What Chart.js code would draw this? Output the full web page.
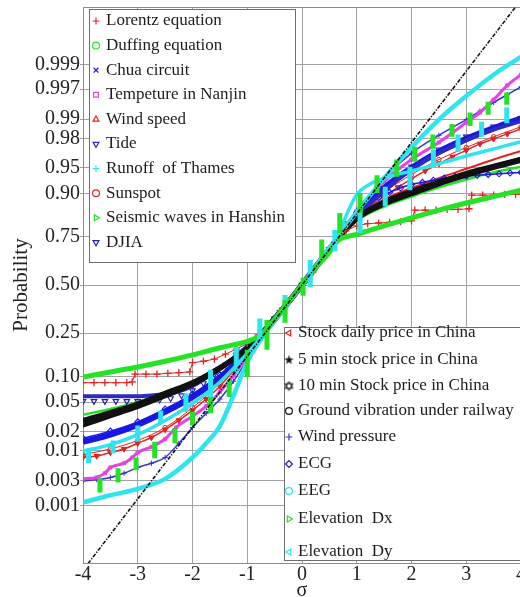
<!DOCTYPE html>
<html>
<head>
<meta charset="utf-8">
<script src="https://cdn.jsdelivr.net/npm/chart.js@4.4.1/dist/chart.umd.min.js"></script>
<style>
  html, body { margin: 0; padding: 0; background: #fff; overflow: hidden; width: 520px; height: 597px; }
  canvas { display: block; }
</style>
</head>
<body>
<canvas id="plot" width="530" height="597"></canvas>
<script>
// Normal probability plot: x is sigma, y is the standard-normal quantile of the
// empirical cumulative probability (labelled with probabilities).
const SIGMA_TICKS = [-4, -3, -2, -1, 0, 1, 2, 3, 4];
const PROB_TICKS = [0.001, 0.003, 0.01, 0.02, 0.05, 0.10, 0.25, 0.50, 0.75, 0.90, 0.95, 0.98, 0.99, 0.997, 0.999];
const PROB_LABELS = ['0.001', '0.003', '0.01', '0.02', '0.05', '0.10', '0.25', '0.50', '0.75', '0.90', '0.95', '0.98', '0.99', '0.997', '0.999'];

// Each series: [sigma, quantile] pairs
const lorentz = [[-4,-1.37],[-3.8,-1.37],[-3.6,-1.37],[-3.4,-1.37],[-3.2,-1.37],[-3.1,-1.36],
  [-3.05,-1.25],[-2.85,-1.25],[-2.65,-1.25],[-2.45,-1.24],[-2.25,-1.23],[-2.05,-1.22],
  [-2.0,-1.09],[-1.8,-1.07],[-1.6,-1.04],[-1.4,-0.97],[-1.2,-0.9],[-1.0,-0.82],[-0.8,-0.7],
  [-0.6,-0.55],[-0.4,-0.36],[-0.2,-0.18],[0,0],[0.2,0.18],[0.4,0.38],[0.6,0.6],[0.8,0.76],
  [1.0,0.83],[1.2,0.86],[1.4,0.87],[1.6,0.88],[1.8,0.89],[2.0,0.9],
  [2.06,1.05],[2.25,1.05],[2.45,1.05],[2.65,1.06],[2.85,1.06],[3.05,1.07],
  [3.1,1.26],[3.3,1.26],[3.5,1.26],[3.7,1.27],[3.9,1.27],[4.1,1.27]];
const duffing = [[-4,-1.29],[-3.5,-1.22],[-3,-1.15],[-2.5,-1.07],[-2,-0.98],[-1.5,-0.88],[-1,-0.79],
  [-0.75,-0.7],[-0.5,-0.48],[-0.25,-0.24],[0,0],[0.25,0.24],[0.5,0.46],[0.65,0.62],[1,0.71],
  [1.5,0.83],[2,0.94],[2.5,1.05],[3,1.15],[3.5,1.24],[4,1.33]];
const chua = [[-4,-2.2],[-3.5,-2.1],[-3,-1.96],[-2.5,-1.78],[-2,-1.57],[-1.5,-1.3],[-1,-0.93],
  [-0.5,-0.48],[0,0],[0.5,0.5],[1,0.98],[1.5,1.36],[2,1.64],[2.5,1.87],[3,2.05],[3.5,2.2],[4,2.34]];
const tempeture = [[-4,-2.72],[-3.75,-2.7],[-3.6,-2.64],[-3.5,-2.56],[-3.25,-2.5],[-3.1,-2.42],
  [-3,-2.35],[-2.75,-2.27],[-2.5,-2.16],[-2.3,-2.0],[-2,-1.84],[-1.75,-1.7],[-1.5,-1.5],
  [-1.25,-1.27],[-1,-1.0],[-0.75,-0.75],[-0.5,-0.5],[0,0],[0.5,0.52],[1,1.02],[1.5,1.45],
  [2,1.76],[2.5,2.0],[3,2.28],[3.25,2.42],[3.5,2.6],[3.75,2.8],[4,2.95]];
const windSpeed = [[-4,-2.42],[-3.75,-2.4],[-3.5,-2.35],[-3.25,-2.3],[-3,-2.22],[-2.75,-2.14],
  [-2.5,-2.03],[-2.25,-1.9],[-2,-1.76],[-1.75,-1.6],[-1.5,-1.42],[-1.25,-1.2],[-1,-0.95],
  [-0.5,-0.48],[0,0],[0.5,0.5],[1,0.93],[1.25,1.1],[1.5,1.24],[1.75,1.37],[2,1.49],[2.25,1.6],
  [2.5,1.7],[2.75,1.8],[3,1.89],[3.25,1.98],[3.5,2.05],[3.75,2.12],[4,2.19]];
const tide = [[-4,-1.56],[-3.75,-1.56],[-3.5,-1.56],[-3.25,-1.56],[-3,-1.56],[-2.75,-1.55],
  [-2.5,-1.53],[-2.25,-1.49],[-2,-1.42],[-1.75,-1.3],[-1.5,-1.17],[-1.25,-1.02],[-1,-0.86],
  [-0.5,-0.47],[0,0],[0.5,0.5],[1,0.95],[1.5,1.32],[2,1.62],[2.5,1.85],[3,2.03],[3.5,2.18],[4,2.3]];
const runoff = [[-4,-2.33],[-3.5,-2.24],[-3,-2.1],[-2.5,-1.9],[-2,-1.66],[-1.5,-1.36],[-1,-0.96],
  [-0.5,-0.49],[0,0],[0.5,0.52],[0.65,0.7],[0.85,1.05],[1,1.27],[1.25,1.42],[1.5,1.5],[2,1.6],
  [2.5,1.7],[3,1.81],[3.5,1.91],[4,2.01]];
const sunspot = [[-4,-2.38],[-3.5,-2.3],[-3,-2.18],[-2.5,-2.0],[-2,-1.72],[-1.5,-1.38],[-1,-0.94],
  [-0.5,-0.48],[0,0],[0.5,0.5],[1,0.96],[1.5,1.3],[2,1.55],[2.5,1.76],[3,1.93],[3.5,2.08],[4,2.22]];
const seismic = [[-4,-1.82],[-3.5,-1.74],[-3,-1.64],[-2.5,-1.5],[-2,-1.36],[-1.5,-1.15],[-1,-0.88],
  [-0.5,-0.46],[0,0],[0.5,0.5],[1,0.9],[1.5,1.1],[2,1.24],[2.5,1.37],[3,1.48],[3.5,1.58],[4,1.66]];
const djia = [[-4,-1.63],[-3.8,-1.63],[-3.6,-1.63],[-3.4,-1.63],[-3.2,-1.63],[-3,-1.63],[-2.8,-1.62],
  [-2.6,-1.61],[-2.4,-1.59],[-2.2,-1.55],[-2,-1.48],[-1.8,-1.38],[-1.6,-1.25],[-1.4,-1.12],
  [-1.2,-0.98],[-1,-0.85],[-0.5,-0.47],[0,0],[0.5,0.5],[1,0.97],[1.5,1.36],[2,1.66],[2.5,1.9],
  [3,2.08],[3.5,2.22],[4,2.34]];
const stockDaily = [[-4,-1.9],[-3.5,-1.79],[-3,-1.67],[-2.5,-1.52],[-2,-1.37],[-1.5,-1.15],[-1,-0.88],
  [-0.5,-0.47],[0,0],[0.5,0.5],[1,0.95],[1.5,1.2],[2,1.36],[2.5,1.5],[3,1.63],[3.5,1.76],[4,1.88]];
const stock5min = [[-4,-1.93],[-3.5,-1.8],[-3,-1.68],[-2.5,-1.53],[-2,-1.38],[-1.5,-1.16],[-1,-0.89],
  [-0.5,-0.47],[0,0],[0.5,0.5],[1,0.93],[1.5,1.14],[2,1.29],[2.5,1.43],[3,1.55],[3.5,1.66],[4,1.76]];
const stock10min = [[-4,-1.98],[-3.5,-1.85],[-3,-1.72],[-2.5,-1.57],[-2,-1.41],[-1.5,-1.19],[-1,-0.9],
  [-0.5,-0.47],[0,0],[0.5,0.5],[1,0.95],[1.5,1.18],[2,1.33],[2.5,1.46],[3,1.58],[3.5,1.68],[4,1.78]];
const groundVibration = [[-4,-1.88],[-3.5,-1.77],[-3,-1.65],[-2.5,-1.5],[-2,-1.35],[-1.5,-1.14],
  [-1,-0.88],[-0.5,-0.46],[0,0],[0.5,0.5],[1,0.91],[1.5,1.12],[2,1.26],[2.5,1.4],[3,1.52],[3.5,1.63],[4,1.73]];
const windPressure = [[-4,-2.75],[-3.75,-2.73],[-3.5,-2.7],[-3.25,-2.64],[-3,-2.56],[-2.75,-2.5],
  [-2.5,-2.42],[-2.25,-2.22],[-2,-2.0],[-1.75,-1.8],[-1.5,-1.6],[-1.25,-1.35],[-1,-1.05],
  [-0.5,-0.5],[0,0],[0.5,0.52],[1,1.05],[1.5,1.5],[2,1.85],[2.5,2.1],[3,2.32],[3.25,2.44],
  [3.5,2.56],[3.75,2.67],[4,2.78]];
const ecg = [[-4,-2.15],[-3.5,-2.05],[-3,-1.92],[-2.5,-1.74],[-2,-1.53],[-1.5,-1.26],[-1,-0.9],
  [-0.5,-0.47],[0,0],[0.5,0.5],[0.8,0.85],[1,1.02],[1.2,1.14],[1.4,1.23],[1.6,1.3],[1.8,1.36],
  [2,1.41],[2.2,1.44],[2.4,1.47],[2.6,1.5],[2.8,1.52],[3,1.53],[3.2,1.54],[3.4,1.55],[3.6,1.56],
  [3.8,1.57],[4,1.58]];
const eeg = [[-4,-3.05],[-3.5,-2.95],[-3,-2.86],[-2.5,-2.72],[-2,-2.42],[-1.75,-2.22],[-1.5,-1.98],
  [-1.25,-1.55],[-1,-1.08],[-0.75,-0.76],[-0.5,-0.5],[0,0],[0.5,0.52],[1,1.02],[1.5,1.5],
  [2,1.93],[2.5,2.32],[3,2.65],[3.5,2.95],[4,3.2]];
// Discrete records: [sigma, lower quantile, upper quantile] of each vertical run
const elevationDx = [[-3.69,-2.91,-2.71],[-3.36,-2.77,-2.57],[-3.03,-2.6,-2.42],[-2.69,-2.43,-2.2],
  [-2.32,-2.22,-2.01],[-2.0,-1.97,-1.78],[-1.67,-1.8,-1.57],[-1.33,-1.57,-1.33],[-1.0,-1.29,-0.91],
  [-0.64,-0.91,-0.49],[-0.31,-0.53,-0.21],[0.02,-0.15,0.1],[0.36,0.38,0.64],[0.69,0.73,1.01],
  [1.06,1.01,1.29],[1.37,1.29,1.54],[1.73,1.52,1.76],[2.06,1.73,1.94],[2.39,1.91,2.11],
  [2.74,2.08,2.26],[3.07,2.23,2.42],[3.4,2.39,2.57],[3.74,2.53,2.7]];
const elevationDy = [[-3.9,-2.5,-2.32],[-3.45,-2.36,-2.18],[-3.0,-2.2,-1.97],[-2.58,-1.94,-1.76],
  [-2.12,-1.78,-1.52],[-1.67,-1.57,-1.19],[-1.2,-1.24,-0.87],[-0.77,-0.79,-0.47],[-0.31,-0.42,-0.14],
  [0.15,-0.03,0.35],[0.6,0.47,0.77],[1.06,0.73,1.1],[1.52,1.1,1.38],[1.97,1.33,1.66],
  [2.4,1.64,1.9],[2.85,1.87,2.11],[3.28,2.08,2.29],[3.74,2.27,2.49]];
// Gaussian reference: quantile equals sigma
const gaussLine = [[-4,-4],[4,4]];

const SERIF = '"Liberation Serif", "Times New Roman", serif';
const COL = {
  red: 'rgb(228,34,34)', green: 'rgb(36,226,36)', blue: 'rgb(24,24,226)', navy: 'rgb(44,44,196)',
  dark: 'rgb(30,30,170)', magenta: 'rgb(232,64,232)', cyan: 'rgb(46,228,240)', black: '#111'
};

// Inverse of the standard normal CDF (Acklam's rational approximation)
function norminv(p) {
  const a = [-3.969683028665376e+01, 2.209460984245205e+02, -2.759285104469687e+02, 1.383577518672690e+02, -3.066479806614716e+01, 2.506628277459239e+00];
  const b = [-5.447609879822406e+01, 1.615858368580409e+02, -1.556989798598866e+02, 6.680131188771972e+01, -1.328068155288572e+01];
  const c = [-7.784894002430293e-03, -3.223964580411365e-01, -2.400758277161838e+00, -2.549732539343734e+00, 4.374664141464968e+00, 2.938163982698783e+00];
  const d = [7.784695709041462e-03, 3.224671290700398e-01, 2.445134137142996e+00, 3.754408661907416e+00];
  const pl = 0.02425;
  let q, r;
  if (p < pl) {
    q = Math.sqrt(-2 * Math.log(p));
    return (((((c[0]*q+c[1])*q+c[2])*q+c[3])*q+c[4])*q+c[5]) / ((((d[0]*q+d[1])*q+d[2])*q+d[3])*q+1);
  }
  if (p <= 1 - pl) {
    q = p - 0.5; r = q * q;
    return (((((a[0]*r+a[1])*r+a[2])*r+a[3])*r+a[4])*r+a[5])*q / (((((b[0]*r+b[1])*r+b[2])*r+b[3])*r+b[4])*r+1);
  }
  q = Math.sqrt(-2 * Math.log(1 - p));
  return -(((((c[0]*q+c[1])*q+c[2])*q+c[3])*q+c[4])*q+c[5]) / ((((d[0]*q+d[1])*q+d[2])*q+d[3])*q+1);
}

const toPoints = arr => arr.map(([x, y]) => ({ x, y }));
const toRuns = arr => arr.flatMap(([x, lo, hi]) => [{ x, y: lo }, { x, y: hi }, { x, y: null }]);

// Small bitmap markers for the star and hexagram symbols
function bitmapMarker(drawFn) {
  const c = document.createElement('canvas');
  c.width = 11; c.height = 11;
  drawFn(c.getContext('2d'), 5.5, 5.5);
  return c;
}
const starMarker = bitmapMarker((g, cx, cy) => {
  g.beginPath();
  for (let i = 0; i < 10; i++) {
    const r = i % 2 ? 2.0 : 5.0;
    const t = -Math.PI / 2 + i * Math.PI / 5;
    g.lineTo(cx + r * Math.cos(t), cy + r * Math.sin(t));
  }
  g.closePath(); g.fillStyle = '#111'; g.fill();
});
const hexagramMarker = bitmapMarker((g, cx, cy) => {
  g.strokeStyle = '#111'; g.lineWidth = 1;
  [-Math.PI / 2, Math.PI / 2].forEach(t0 => {
    g.beginPath();
    for (let i = 0; i < 3; i++) {
      const t = t0 + i * 2 * Math.PI / 3;
      g.lineTo(cx + 4.6 * Math.cos(t), cy + 4.6 * Math.sin(t));
    }
    g.closePath(); g.stroke();
  });
});

function curve(label, data, color, width, order, box, mark, extra) {
  return Object.assign({
    label, data: toPoints(data), borderColor: color, backgroundColor: color,
    borderWidth: width, pointRadius: 0, tension: 0.4, cubicInterpolationMode: 'monotone',
    order, box, mark, fill: false
  }, extra || {});
}
function runs(label, data, color, order, box, mark) {
  return {
    label, data: toRuns(data), borderColor: color, backgroundColor: color, borderWidth: 5,
    borderCapStyle: 'butt', pointRadius: 0, tension: 0, spanGaps: false, order, box, mark, fill: false
  };
}

const datasets = [
  curve('Lorentz equation', lorentz, COL.red, 1, 3, 1, { style: 'cross', color: COL.red },
    { tension: 0, cubicInterpolationMode: 'default', pointStyle: 'cross', pointRadius: 3.6, pointBorderWidth: 1.3 }),
  curve('Duffing equation', duffing, COL.green, 5, 2, 1, { style: 'circle', color: COL.green }),
  curve('Chua circuit', chua, COL.blue, 6, 12, 1, { style: 'crossRot', color: COL.blue }),
  curve('Tempeture in Nanjin', tempeture, COL.magenta, 3, 14, 1, { style: 'rect', color: COL.magenta },
    { pointStyle: 'rect', pointRadius: 2.2, pointBorderWidth: 1, pointBackgroundColor: 'rgba(0,0,0,0)' }),
  curve('Wind speed', windSpeed, COL.red, 1.5, 13, 1, { style: 'triangle', color: COL.red },
    { pointStyle: 'triangle', pointRotation: 180, pointRadius: 3.2, pointBorderWidth: 1 }),
  curve('Tide', tide, COL.navy, 4, 9, 1, { style: 'triangle', rot: 180, color: COL.navy }),
  curve('Runoff  of Thames', runoff, COL.cyan, 3.5, 5, 1, { style: 'cross', color: COL.cyan }),
  curve('Sunspot', sunspot, COL.red, 1, 15, 1, { style: 'circle', color: COL.red },
    { pointStyle: 'circle', pointRadius: 2.2, pointBorderWidth: 1, pointBackgroundColor: 'rgba(0,0,0,0)' }),
  curve('Seismic waves in Hanshin', seismic, COL.green, 2.5, 16, 1, { style: 'triangle', rot: 90, color: COL.green }),
  curve('DJIA', djia, COL.dark, 0, 10, 1, { style: 'triangle', rot: 180, color: COL.dark },
    { showLine: false, pointStyle: 'triangle', pointRotation: 180, pointRadius: 3.2, pointBorderWidth: 1.1, pointBackgroundColor: 'rgba(0,0,0,0)' }),

  curve('Stock daily price in China', stockDaily, COL.red, 2, 17, 2, { style: 'triangle', rot: 270, color: COL.red }),
  curve('5 min stock price in China', stock5min, COL.black, 5, 6, 2, { style: starMarker, color: COL.black }),
  curve('10 min Stock price in China', stock10min, COL.black, 3, 7, 2, { style: hexagramMarker, color: COL.black }),
  curve('Ground vibration under railway', groundVibration, COL.black, 2.5, 8, 2, { style: 'circle', color: COL.black }),
  curve('Wind pressure', windPressure, 'rgb(52,52,214)', 1.5, 15.5, 2, { style: 'cross', color: 'rgb(52,52,214)' },
    { pointStyle: 'cross', pointRadius: 2.6, pointBorderWidth: 1 }),
  curve('ECG', ecg, COL.blue, 1.5, 11, 2, { style: 'rectRot', color: COL.blue },
    { pointStyle: 'rectRot', pointRadius: 3, pointBorderWidth: 1.1, pointBackgroundColor: 'rgba(0,0,0,0)' }),
  curve('EEG', eeg, COL.cyan, 4.5, 4, 2, { style: 'circle', color: COL.cyan }),
  runs('Elevation  Dx', elevationDx, COL.green, 1, 2, { style: 'triangle', rot: 90, color: COL.green }),
  runs('Elevation  Dy', elevationDy, COL.cyan, 1.5, 2, { style: 'triangle', rot: 270, color: COL.cyan }),
  {
    label: 'Gaussian', data: toPoints(gaussLine), borderColor: '#111', borderWidth: 1.6,
    borderDash: [4, 1.5, 1.2, 1.5], pointRadius: 0, tension: 0, order: 0, fill: false
  }
];

// Plot frame and the two in-plot legend boxes
const framePlugin = {
  id: 'frameAndLegends',
  beforeDatasetsDraw(chart) {
    const { ctx, chartArea: a } = chart;
    ctx.save();
    ctx.strokeStyle = '#8c8c8c'; ctx.lineWidth = 1;
    ctx.strokeRect(Math.round(a.left) + 0.5, Math.round(a.top) + 0.5, a.right - a.left, a.bottom - a.top);
    ctx.restore();
  },
  afterDraw(chart) {
    const ctx = chart.ctx;
    const sets = chart.data.datasets;
    const boxes = [
      { id: 1, x: 89, y: 9, w: 206, h: 253, markX: 96, textX: 106, rows: [21, 45.6, 70.2, 94.8, 119.4, 144, 168.6, 193.2, 217.8, 242.4] },
      { id: 2, x: 284, y: 327, w: 238, h: 233, markX: 289, textX: 298, rows: [333, 360, 386, 411, 437, 464, 491, 519, 552] }
    ];
    boxes.forEach(b => {
      const items = sets.filter(s => s.box === b.id);
      ctx.save();
      ctx.fillStyle = '#fff';
      ctx.fillRect(b.x, b.y, b.w, b.h);
      ctx.strokeStyle = '#6e6e6e'; ctx.lineWidth = 1;
      ctx.strokeRect(b.x + 0.5, b.y + 0.5, b.w, b.h);
      ctx.font = '17px ' + SERIF;
      ctx.textBaseline = 'middle'; ctx.textAlign = 'left';
      items.forEach((s, i) => {
        const y = b.rows[i];
        ctx.save();
        ctx.strokeStyle = s.mark.color;
        ctx.fillStyle = 'rgba(0,0,0,0)';
        ctx.lineWidth = 1.2;
        Chart.helpers.drawPoint(ctx, { pointStyle: s.mark.style, rotation: s.mark.rot || 0, radius: 3.4, borderWidth: 1.2 }, b.markX, y);
        ctx.restore();
        ctx.fillStyle = '#1c1c1c';
        ctx.fillText(s.label, b.textX, y);
      });
      ctx.restore();
    });
  }
};

new Chart(document.getElementById('plot'), {
  type: 'line',
  data: { datasets },
  plugins: [framePlugin],
  options: {
    responsive: false,
    animation: false,
    layout: { padding: { left: 0, right: 9, top: 7, bottom: 0 } },
    plugins: { legend: { display: false }, tooltip: { enabled: false } },
    scales: {
      x: {
        type: 'linear', min: -4, max: 4,
        afterBuildTicks: s => { s.ticks = SIGMA_TICKS.map(v => ({ value: v })); },
        afterFit: s => { s.height = 34; s.paddingLeft = 0; s.paddingRight = 0; },
        ticks: { font: { family: SERIF, size: 20 }, color: '#222', padding: 0, maxRotation: 0, autoSkip: false, callback: v => String(v) },
        grid: { color: '#a2a2a2', lineWidth: 1, drawTicks: false },
        border: { display: true, color: '#8c8c8c' },
        title: { display: true, text: 'σ', font: { family: SERIF, size: 20, lineHeight: 1 }, color: '#222', padding: { top: 0, bottom: -4 } }
      },
      y: {
        type: 'linear', min: -3.9, max: 3.9,
        afterBuildTicks: s => { s.ticks = PROB_TICKS.map(p => ({ value: norminv(p) })); },
        afterFit: s => { s.width = 83; s.paddingTop = 0; s.paddingBottom = 0; },
        ticks: { font: { family: SERIF, size: 20 }, color: '#222', padding: 0, autoSkip: false, callback: (v, i) => PROB_LABELS[i] },
        grid: { color: '#a2a2a2', lineWidth: 1, drawTicks: true, tickLength: 3 },
        border: { display: true, color: '#8c8c8c' },
        title: { display: true, text: 'Probability', font: { family: SERIF, size: 21, lineHeight: 1 }, color: '#222', padding: { top: 11, bottom: 0 } }
      }
    }
  }
});
</script>
</body>
</html>
